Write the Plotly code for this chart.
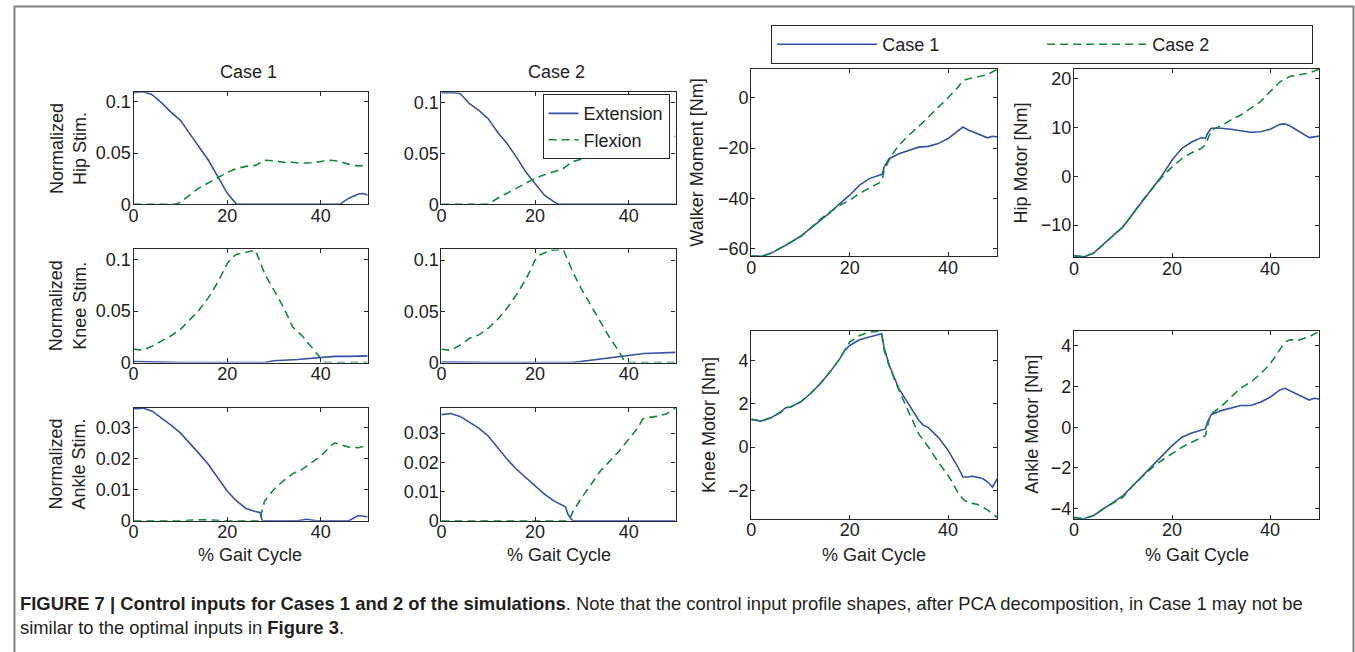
import plotly.graph_objects as go

W, H = 1355, 652          # reference picture size (pixel coordinates below refer to it)
FIG_H = 663               # figure height used for the page (viewport is resampled to 652)
BLUE = "#3552A6"
GREEN = "#138A3C"
INK = "#222222"
FONT = "Liberation Sans, Arial, sans-serif"

# ---------------- data ----------------
# Normalized hip stimulation
HIP1_EXT_X = [0, 2, 4, 6, 8, 10, 12, 14, 16, 18, 20, 22, 44, 46, 48, 49, 50]
HIP1_EXT_Y = [0.109, 0.110, 0.107, 0.099, 0.090, 0.082, 0.069, 0.056, 0.043, 0.027, 0.011, 0.0,
              0.0, 0.006, 0.010, 0.0105, 0.009]
HIP1_FLX_X = [0, 9, 10, 12, 14, 16, 18, 20, 22, 24, 26, 28, 30, 32, 34, 36, 38, 40, 42, 44, 46, 48, 50]
HIP1_FLX_Y = [0, 0, 0.002, 0.009, 0.016, 0.021, 0.026, 0.031, 0.035, 0.037, 0.038, 0.043, 0.0425,
              0.041, 0.041, 0.040, 0.0405, 0.0415, 0.043, 0.042, 0.039, 0.0375, 0.038]
HIP2_EXT_X = [0, 2, 4, 6, 8, 10, 12, 14, 16, 18, 20, 22, 24, 25, 50]
HIP2_EXT_Y = [0.1098, 0.110, 0.109, 0.099, 0.0925, 0.0843, 0.071, 0.060, 0.0467, 0.032, 0.0206,
              0.009, 0.0026, 0, 0]
HIP2_FLX_X = [0, 10, 12, 14, 16, 18, 20, 22, 24, 26, 28, 30, 32, 34, 36, 38, 40, 42, 44, 46, 48, 50]
HIP2_FLX_Y = [0, 0, 0.006, 0.011, 0.0157, 0.0206, 0.0255, 0.029, 0.032, 0.035, 0.042, 0.0444,
              0.046, 0.048, 0.050, 0.053, 0.056, 0.058, 0.060, 0.062, 0.065, 0.067]

# Normalized knee stimulation
KNEE1_EXT_X = [0, 5, 10, 28, 30, 35, 40, 43, 46, 50]
KNEE1_EXT_Y = [0.001, 0.0005, 0.0, 0.0, 0.0018, 0.003, 0.0045, 0.006, 0.006, 0.0065]
KNEE1_FLX_X = [0, 2, 4, 6, 8, 10, 12, 14, 16, 18, 19, 20, 21, 22, 24, 25, 26, 27, 28, 30, 32,
               34, 36, 38, 40, 41, 50]
KNEE1_FLX_Y = [0.013, 0.012, 0.016, 0.021, 0.026, 0.032, 0.041, 0.051, 0.063, 0.078, 0.087, 0.096,
               0.102, 0.105, 0.107, 0.108, 0.109, 0.098, 0.086, 0.070, 0.054, 0.0345, 0.026, 0.015,
               0.004, 0, 0]
KNEE2_EXT_X = [0, 10, 28, 33, 39.4, 43.3, 50]
KNEE2_EXT_Y = [0.0005, 0, 0, 0.003, 0.0063, 0.0089, 0.0099]
KNEE2_FLX_X = [0, 2, 4, 6, 8, 10, 12, 14, 16, 18, 19, 20, 21, 23, 24, 26, 27, 28, 30, 32, 34,
               36, 38, 39, 40, 50]
KNEE2_FLX_Y = [0.013, 0.012, 0.017, 0.0237, 0.027, 0.0335, 0.042, 0.053, 0.066, 0.081, 0.090,
               0.100, 0.105, 0.109, 0.110, 0.1105, 0.100, 0.089, 0.071, 0.055, 0.0385, 0.0237,
               0.0105, 0.002, 0, 0]

# Normalized ankle stimulation
ANK1_EXT_X = [0, 2, 4, 6, 8, 10, 12, 14, 16, 18, 20, 22, 24, 26, 27, 27.5, 35, 37, 39, 46, 48, 50]
ANK1_EXT_Y = [0.0361, 0.0364, 0.0354, 0.0332, 0.0309, 0.0284, 0.0252, 0.0217, 0.0182, 0.0139,
              0.0096, 0.0064, 0.004, 0.003, 0.0027, 0, 0, 0.0005, 0, 0, 0.0017, 0.0013]
ANK1_FLX_X = [0, 10, 13, 16, 19, 27, 27.5, 28, 30, 32, 34, 36, 38, 40, 42, 43, 44, 46, 48, 50]
ANK1_FLX_Y = [0, 0, 0.0003, 0.0003, 0, 0, 0.0037, 0.0064, 0.0102, 0.0129, 0.0152, 0.0166, 0.0188,
              0.0209, 0.0241, 0.0252, 0.0247, 0.0238, 0.0236, 0.0244]
ANK2_EXT_X = [0, 2, 4, 6, 8, 10, 12, 14, 16, 18, 20, 22, 24, 26, 26.5, 27, 28, 50]
ANK2_EXT_Y = [0.0363, 0.0367, 0.0357, 0.0336, 0.0317, 0.029, 0.0251, 0.0211, 0.0177, 0.0148,
              0.012, 0.0091, 0.0068, 0.0051, 0.0048, 0.0023, 0, 0]
ANK2_FLX_X = [0, 12, 14, 16, 27, 27.5, 28, 30, 32, 34, 36, 38, 40, 42, 43, 44, 46, 48, 50]
ANK2_FLX_Y = [0, 0, 0.0002, 0, 0, 0.0011, 0.0029, 0.008, 0.0125, 0.0171, 0.0205, 0.0239, 0.0279,
              0.0319, 0.0348, 0.0353, 0.0357, 0.0365, 0.0386]

# Walker moment [Nm]
WALK_C1_X = [0, 2, 4, 6, 8, 10, 12, 14, 16, 18, 20, 22, 24, 26, 26.6, 27, 28, 30, 32, 34, 36, 38,
             40, 42, 43, 44, 46, 48, 49, 50]
WALK_C1_Y = [-62.9, -63.0, -61.8, -59.8, -57.5, -55.0, -51.9, -48.6, -45.6, -42.0, -38.7, -34.7,
             -32.1, -30.8, -30.4, -27.5, -24.2, -22.2, -20.9, -19.6, -19.3, -18.2, -16.2, -12.9,
             -11.6, -12.7, -14.3, -15.9, -15.3, -15.6]
WALK_C2_X = [0, 2, 4, 6, 8, 10, 12, 14, 16, 18, 20, 22, 24, 26, 26.6, 27, 28, 29, 30, 32, 34, 36,
             38, 40, 42, 43, 44, 46, 48, 50]
WALK_C2_Y = [-62.9, -63.0, -61.8, -59.6, -57.5, -55.2, -51.9, -48.3, -45.3, -42.7, -40.7, -38.0,
             -35.8, -33.8, -32.8, -28.8, -24.8, -21.5, -18.9, -14.9, -11.4, -7.7, -4.0, 0.0, 4.2,
             6.9, 7.5, 8.2, 9.2, 11.4]

# Hip motor [Nm]
HIPM_C1_X = [0, 2, 4, 6, 8, 10, 12, 14, 16, 18, 20, 22, 24, 26, 26.8, 27.2, 28, 30, 32, 34, 36,
             38, 40, 42, 43, 44, 46, 48, 50]
HIPM_C1_Y = [-16.3, -16.5, -15.7, -13.8, -12.1, -10.3, -7.7, -4.9, -2.5, 0.2, 3.3, 5.7, 7.0, 7.9,
             7.7, 8.7, 9.8, 9.8, 9.6, 9.3, 9.0, 9.1, 9.6, 10.6, 10.7, 10.3, 9.1, 7.9, 8.2]
HIPM_C2_X = [0, 2, 4, 6, 8, 10, 12, 14, 16, 18, 20, 22, 24, 26, 26.8, 27.5, 28, 30, 32, 34, 36,
             38, 40, 42, 44, 46, 48, 50]
HIPM_C2_Y = [-16.2, -16.5, -15.7, -13.9, -12.3, -10.4, -7.7, -4.9, -2.5, -0.1, 1.9, 3.6, 4.8, 5.7,
             6.4, 8.4, 9.4, 10.3, 11.5, 12.5, 13.9, 15.2, 17.3, 19.3, 20.4, 20.7, 21.1, 21.9]

# Knee motor [Nm]
KNEEM_C1_X = [0, 2, 4, 6, 7, 8, 10, 12, 14, 16, 18, 19, 20, 22, 24, 26, 26.5, 27, 28, 30, 32, 34,
              35, 36, 38, 40, 42, 43, 44, 45, 47, 48, 49, 50]
KNEEM_C1_Y = [1.28, 1.2, 1.35, 1.62, 1.82, 1.85, 2.08, 2.46, 2.92, 3.46, 4.08, 4.46, 4.69, 4.95,
              5.08, 5.18, 5.23, 4.6, 3.8, 2.7, 2.0, 1.25, 1.0, 0.9, 0.45, -0.15, -0.92, -1.38,
              -1.38, -1.35, -1.45, -1.6, -1.85, -1.46]
KNEEM_C2_X = [0, 2, 4, 6, 7, 8, 10, 12, 14, 16, 18, 19, 20, 22, 24, 26, 26.5, 27, 28, 30, 32, 34,
              36, 38, 40, 42, 43, 44, 45, 46, 48, 50]
KNEEM_C2_Y = [1.28, 1.2, 1.35, 1.62, 1.82, 1.85, 2.08, 2.46, 2.92, 3.46, 4.08, 4.49, 4.85, 5.15,
              5.31, 5.34, 5.23, 4.46, 3.77, 2.62, 1.62, 0.62, 0.0, -0.7, -1.3, -2.1, -2.4, -2.55,
              -2.6, -2.65, -2.9, -3.25]

# Ankle motor [Nm]
ANKM_C1_X = [0, 2, 4, 6, 8, 10, 12, 14, 16, 18, 20, 22, 24, 26, 26.8, 27.2, 28, 30, 32, 34, 36,
             38, 40, 42, 43, 44, 46, 48, 49, 50]
ANKM_C1_Y = [-4.46, -4.5, -4.34, -4.0, -3.69, -3.36, -2.87, -2.38, -1.92, -1.39, -0.9, -0.49,
             -0.28, -0.13, -0.08, 0.25, 0.62, 0.82, 0.95, 1.07, 1.07, 1.23, 1.48, 1.84, 1.92, 1.8,
             1.56, 1.34, 1.43, 1.39]
ANKM_C2_X = [0, 2, 4, 6, 8, 10, 12, 14, 16, 18, 20, 22, 24, 26, 26.8, 27.5, 28, 30, 32, 34, 36,
             38, 40, 42, 43, 44, 46, 48, 50]
ANKM_C2_Y = [-4.43, -4.5, -4.34, -4.0, -3.72, -3.44, -2.87, -2.43, -1.97, -1.61, -1.28, -0.98,
             -0.74, -0.49, -0.41, 0.33, 0.66, 1.02, 1.48, 1.93, 2.21, 2.62, 3.11, 3.8, 4.18, 4.3,
             4.3, 4.46, 4.72]

# ticks
X_TICKS = [0, 20, 40]
X_TICK_TEXT = ["0", "20", "40"]
STIM_TICKS = [0, 0.05, 0.1]
STIM_TICK_TEXT = ["0", "0.05", "0.1"]
ANK_TICKS = [0, 0.01, 0.02, 0.03]
ANK_TICK_TEXT = ["0", "0.01", "0.02", "0.03"]
WALK_TICKS = [-60, -40, -20, 0]
HIPM_TICKS = [-10, 0, 10, 20]
KNEEM_TICKS = [-2, 0, 2, 4]
ANKM_TICKS = [-4, -2, 0, 2, 4]

# ---------------- layout helpers ----------------
def fx(p):
    return p / W


def fy(p):
    return 1 - p / H


# panel: (x0, x1, y0_top, y1_bottom) in pixels, y range, ticks, tick text
panels = [
    ((129, 364, 92, 204), [0, 0.1095], STIM_TICKS, STIM_TICK_TEXT),
    ((438, 673, 92, 204), [0, 0.1104], STIM_TICKS, STIM_TICK_TEXT),
    ((129, 364, 249, 362), [0, 0.1098], STIM_TICKS, STIM_TICK_TEXT),
    ((438, 673, 249, 362), [0, 0.1105], STIM_TICKS, STIM_TICK_TEXT),
    ((129, 364, 407, 520), [0, 0.03655], ANK_TICKS, ANK_TICK_TEXT),
    ((438, 673, 407, 520), [0, 0.0387], ANK_TICKS, ANK_TICK_TEXT),
    ((749, 996, 69, 256), [-63.0, 11.4], WALK_TICKS, None),
    ((1073, 1319, 69, 257), [-16.6, 21.9], HIPM_TICKS, None),
    ((749, 996, 330, 518), [-3.31, 5.38], KNEEM_TICKS, None),
    ((1073, 1319, 330, 518), [-4.5, 4.76], ANKM_TICKS, None),
]

series = [
    (HIP1_EXT_X, HIP1_EXT_Y, HIP1_FLX_X, HIP1_FLX_Y),
    (HIP2_EXT_X, HIP2_EXT_Y, HIP2_FLX_X, HIP2_FLX_Y),
    (KNEE1_EXT_X, KNEE1_EXT_Y, KNEE1_FLX_X, KNEE1_FLX_Y),
    (KNEE2_EXT_X, KNEE2_EXT_Y, KNEE2_FLX_X, KNEE2_FLX_Y),
    (ANK1_EXT_X, ANK1_EXT_Y, ANK1_FLX_X, ANK1_FLX_Y),
    (ANK2_EXT_X, ANK2_EXT_Y, ANK2_FLX_X, ANK2_FLX_Y),
    (WALK_C1_X, WALK_C1_Y, WALK_C2_X, WALK_C2_Y),
    (HIPM_C1_X, HIPM_C1_Y, HIPM_C2_X, HIPM_C2_Y),
    (KNEEM_C1_X, KNEEM_C1_Y, KNEEM_C2_X, KNEEM_C2_Y),
    (ANKM_C1_X, ANKM_C1_Y, ANKM_C2_X, ANKM_C2_Y),
]

fig = go.Figure()
layout = {}
for i, ((x0, x1, yt, yb), yr, yt_vals, yt_text) in enumerate(panels):
    n = i + 1
    xa = "xaxis" if n == 1 else f"xaxis{n}"
    ya = "yaxis" if n == 1 else f"yaxis{n}"
    xref = "x" if n == 1 else f"x{n}"
    yref = "y" if n == 1 else f"y{n}"
    common = dict(showline=True, linecolor="#262626", linewidth=1.2, mirror="ticks",
                  ticks="inside", ticklen=4, tickwidth=1, tickcolor="#262626",
                  showgrid=False, zeroline=False, fixedrange=True,
                  tickfont=dict(size=18, color=INK, family=FONT))
    layout[xa] = dict(common, domain=[fx(x0), fx(x1)], range=[0, 50], anchor=yref,
                      tickmode="array", tickvals=X_TICKS, ticktext=X_TICK_TEXT,
                      ticklabelstandoff=-5)
    ydict = dict(common, domain=[fy(yb), fy(yt)], range=yr, anchor=xref,
                 tickmode="array", tickvals=yt_vals, ticklabelstandoff=-2)
    if yt_text is not None:
        ydict["ticktext"] = yt_text
    layout[ya] = ydict

    ax1, ay1, ax2, ay2 = series[i]
    if i == 1:
        names, leg, show = ("Extension", "Flexion"), "legend", True
    elif i == 6:
        names, leg, show = ("Case 1", "Case 2"), "legend2", True
    else:
        names, leg, show = ("", ""), "legend", False
    fig.add_trace(go.Scatter(x=ax1, y=ay1, xaxis=xref, yaxis=yref, mode="lines",
                             line=dict(color=BLUE, width=1.6), name=names[0],
                             legend=leg, showlegend=show, hoverinfo="skip"))
    fig.add_trace(go.Scatter(x=ax2, y=ay2, xaxis=xref, yaxis=yref, mode="lines",
                             line=dict(color=GREEN, width=1.6, dash="8px,5px"), name=names[1],
                             legend=leg, showlegend=show, hoverinfo="skip"))

ann_font = dict(size=18, color=INK, family=FONT)
annotations = []


def text(x, y, s, angle=0, xanchor="center", yanchor="middle", font=None, align="center"):
    annotations.append(dict(x=fx(x), y=fy(y), xref="paper", yref="paper", text=s,
                            showarrow=False, textangle=angle, xanchor=xanchor,
                            yanchor=yanchor, font=font or ann_font, align=align))


text(244, 72, "Case 1")
text(554, 72, "Case 2")
text(63, 148, "Normalized<br>Hip Stim.", angle=-90)
text(63, 305, "Normalized<br>Knee Stim.", angle=-90)
text(63, 463, "Normalized<br>Ankle Stim.", angle=-90)
for cx in (246, 556, 872, 1196):
    text(cx, 554, "% Gait Cycle")
text(695, 162, "Walker Moment [Nm]", angle=-90)
text(1020, 163, "Hip Motor [Nm]", angle=-90)
text(706, 424, "Knee Motor [Nm]", angle=-90)
text(1030, 424, "Ankle Motor [Nm]", angle=-90)

cap_font = dict(size=18.4, color="#231F20", family=FONT)
text(13, 603, "<b>FIGURE 7 | Control inputs for Cases 1 and 2 of the simulations</b>. Note that the "
     "control input profile shapes, after PCA decomposition, in Case 1 may not be",
     xanchor="left", font=cap_font, align="left")
text(13, 627, "similar to the optimal inputs in <b>Figure 3</b>.", xanchor="left", font=cap_font,
     align="left")

fig.update_layout(
    width=W, height=FIG_H,
    margin=dict(l=0, r=0, t=0, b=0),
    paper_bgcolor="white", plot_bgcolor="white",
    font=dict(family=FONT, color=INK, size=18),
    annotations=annotations,
    shapes=[dict(type="rect", xref="paper", yref="paper", x0=fx(9.5), x1=fx(1353.5),
                 y0=fy(720), y1=fy(6.5), line=dict(color="#808080", width=2),
                 fillcolor="rgba(0,0,0,0)", layer="below")],
    legend=dict(x=fx(667), xanchor="right", y=fy(94), yanchor="top", bgcolor="white",
                bordercolor="#262626", borderwidth=1, font=dict(size=18, color=INK, family=FONT),
                tracegroupgap=0),
    legend2=dict(orientation="h", x=fx(769), xanchor="left", y=fy(25), yanchor="top",
                 bgcolor="white", bordercolor="#262626", borderwidth=1, itemwidth=100,
                 entrywidth=155, font=dict(size=18, color=INK, family=FONT)),
    **layout,
)

fig.write_html("out.html", config={"displayModeBar": False},
               post_script="document.body.style.margin='0';document.body.style.overflow='hidden';")
